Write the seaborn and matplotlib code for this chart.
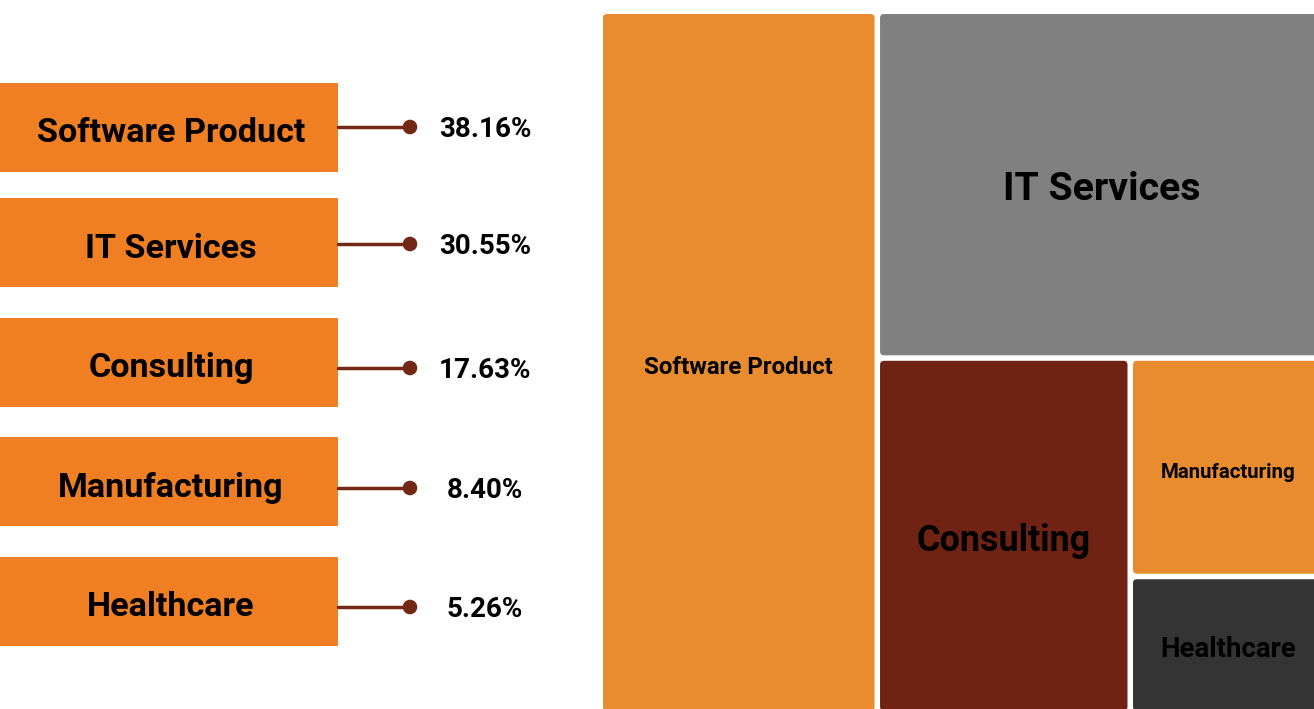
import matplotlib
matplotlib.use("Agg")
import matplotlib.pyplot as plt
from matplotlib.patches import Rectangle, FancyBboxPatch
import seaborn as sns
import pandas as pd

# Industry shares (percent)
industries = ["Software Product", "IT Services", "Consulting", "Manufacturing", "Healthcare"]
shares = [38.16, 30.55, 17.63, 8.40, 5.26]
tile_colors = ["#E98B2F", "#808080", "#702214", "#E98B2F", "#353435"]
tile_font_sizes = [17.3, 28.3, 25.8, 14.7, 19.9]

sns.set_theme(style="white")
plt.rcParams["font.family"] = ["Roboto", "DejaVu Sans"]

W, H = 1314, 709
fig = plt.figure(figsize=(W / 100, H / 100), dpi=100)
ax = fig.add_axes([0, 0, 1, 1])
ax.set_xlim(0, W)
ax.set_ylim(H, 0)
ax.axis("off")

# ---- left panel: label boxes with lollipop connectors ----
box_color = "#F07E23"
line_color = "#722815"
box_tops = [83, 198, 318, 437, 557]
box_h = 89
box_w = 338
stem_y = [127, 244, 368, 488, 607]
dot_x = 410
pct_x = 485

df = pd.DataFrame({"industry": industries, "share": shares,
                   "y": stem_y, "x": [dot_x] * len(industries)})

for top, sy, name, val in zip(box_tops, stem_y, industries, shares):
    ax.add_patch(Rectangle((0, top), box_w, box_h, facecolor=box_color,
                           edgecolor="none", zorder=1))
    ax.text(box_w / 2 + 2, top + box_h / 2 + 6, name, ha="center", va="center",
            fontsize=24.6, fontweight="bold", color="black", zorder=3)
    ax.plot([box_w, dot_x], [sy, sy], color=line_color, lw=2.5, zorder=2)
    ax.text(pct_x, sy + 2.5, f"{val:.2f}%", ha="center", va="center",
            fontsize=20, fontweight="bold", color="black", zorder=3)

sns.scatterplot(data=df, x="x", y="y", ax=ax, s=110, color=line_color,
                edgecolor="none", zorder=3, legend=False)
ax.set_xlabel("")
ax.set_ylabel("")
ax.set_xlim(0, W)
ax.set_ylim(H, 0)


# ---- right panel: treemap ----
def slice_layout(values, x, y, w, h):
    """Peel each value off the longer side of the remaining rectangle."""
    rects = []
    remaining = float(sum(values))
    for v in values:
        frac = v / remaining
        if w >= h:
            cw = w * frac
            rects.append((x, y, cw, h))
            x += cw
            w -= cw
        else:
            ch = h * frac
            rects.append((x, y, w, ch))
            y += ch
            h -= ch
        remaining -= v
    return rects


tm_x0, tm_y0, tm_w, tm_h = 603, 14, 726, 702
gap = 5.5
rects = slice_layout(shares, tm_x0, tm_y0, tm_w, tm_h)
for (rx, ry, rw, rh), name, col, fs in zip(rects, industries, tile_colors, tile_font_sizes):
    ax.add_patch(FancyBboxPatch((rx, ry), rw - gap, rh - gap,
                                boxstyle="round,pad=0,rounding_size=4",
                                facecolor=col, edgecolor="none", zorder=1))
    cx = rx + (rw - gap) / 2
    cy = ry + (rh - gap) / 2
    ax.text(cx, cy + 5, name, ha="center", va="center", fontsize=fs,
            fontweight="bold", color="black", zorder=3)

fig.savefig("out.png", dpi=100, facecolor="white")
